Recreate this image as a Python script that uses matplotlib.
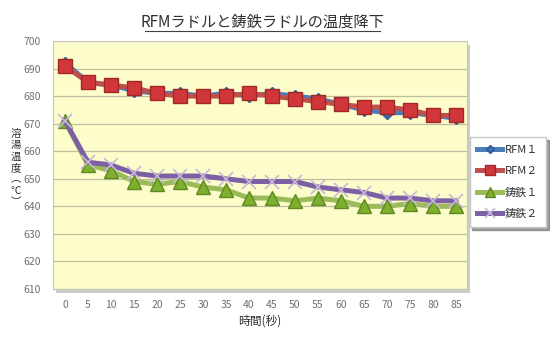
import matplotlib
matplotlib.use("Agg")
import matplotlib.pyplot as plt
from matplotlib.patches import Rectangle

plt.rcParams['font.family'] = ['Noto Sans CJK JP', 'DejaVu Sans']

time_s = [0, 5, 10, 15, 20, 25, 30, 35, 40, 45, 50, 55, 60, 65, 70, 75, 80, 85]
rfm1 = [692, 685, 684, 682, 681, 681, 680, 681, 680, 681, 680, 679, 677, 675, 674, 674, 673, 672]
rfm2 = [691, 685, 684, 683, 681, 680, 680, 680, 681, 680, 679, 678, 677, 676, 676, 675, 673, 673]
cast1 = [671, 655, 653, 649, 648, 649, 647, 646, 643, 643, 642, 643, 642, 640, 640, 641, 640, 640]
cast2 = [671, 656, 655, 652, 651, 651, 651, 650, 649, 649, 649, 647, 646, 645, 643, 643, 642, 642]
series_names = ['RFM１', 'RFM２', '鋳鉄１', '鋳鉄２']
title = 'RFMラドルと鋳鉄ラドルの温度降下'
xlabel = '時間(秒)'
ylabel_chars = ['溶', '湯', '温', '度', '︵', '℃', '︶']
yticks = list(range(610, 701, 10))

fig = plt.figure(figsize=(5.5, 3.5), dpi=100)
fig.patch.set_facecolor('white')
ax = fig.add_axes([53/550, 1-289/350, (467-53)/550, (289-41)/350])
ax.set_facecolor('#FDFDCB')

# shadow of plot area
fig.patches.append(Rectangle((56/550, 1-293/350), (467-53)/550, (289-41)/350,
                             transform=fig.transFigure, facecolor='#9a9a9a',
                             edgecolor='none', alpha=0.5, zorder=-1))

ax.plot(time_s, rfm1, color='#4A7EBB', lw=3.6, marker='D', ms=6,
        mfc='#3C6FB5', mec='#2F5A92', label=series_names[0], zorder=3)
ax.plot(time_s, rfm2, color='#C0504D', lw=3.6, marker='s', ms=10,
        mfc='#D0363A', mec='#A02828', label=series_names[1], zorder=4)
ax.plot(time_s, cast2, color='#7D5FA5', lw=3.6, marker='x', ms=10, mew=1.2,
        mec='#C8B8D8', label=series_names[3], zorder=3)
ax.plot(time_s, cast1, color='#9BBB59', lw=3.6, marker='^', ms=10,
        mfc='#7FAF2F', mec='#5E8A20', label=series_names[2], zorder=2)

ax.set_xlim(-2.6, 87.4)
ax.set_ylim(610, 700)
ax.set_xticks(time_s)
ax.set_yticks(yticks)
ax.grid(axis='y', color='#BDBDA0', lw=0.9)
ax.set_axisbelow(True)
ax.tick_params(axis='both', length=0, labelsize=7.5, labelcolor='#707070')
ax.tick_params(axis='y', pad=9)
ax.tick_params(axis='x', pad=8)
for s in ax.spines.values():
    s.set_color('#C8C8B0')
    s.set_linewidth(0.8)

ax.set_xlabel(xlabel, fontsize=8.5, color='#303030', labelpad=3)

y0 = 134
for i, ch in enumerate(ylabel_chars):
    fig.text(16/550, 1-(y0 + i*11.3)/350, ch, fontsize=7.5, color='#303030',
             ha='center', va='center')

fig.text(262/550, 1-22/350, title, fontsize=11, color='#303030',
         ha='center', va='center')
fig.lines.append(plt.Line2D([145/550, 380/550], [1-31/350, 1-31/350],
                            transform=fig.transFigure, color='#404040', lw=0.8))

handles, labels = ax.get_legend_handles_labels()
order = [labels.index(n) for n in series_names]
leg = fig.legend([handles[i] for i in order], [labels[i] for i in order],
                 loc='center', bbox_to_anchor=(508/550, 1-182/350),
                 fontsize=8, frameon=True, fancybox=False, shadow=True,
                 edgecolor='#C8C8C8', handlelength=2.2, labelspacing=1.0,
                 markerscale=0.7, borderpad=0.7, handletextpad=0.3)
for txt in leg.get_texts():
    txt.set_color('#303030')

fig.savefig('out.png', dpi=100)
